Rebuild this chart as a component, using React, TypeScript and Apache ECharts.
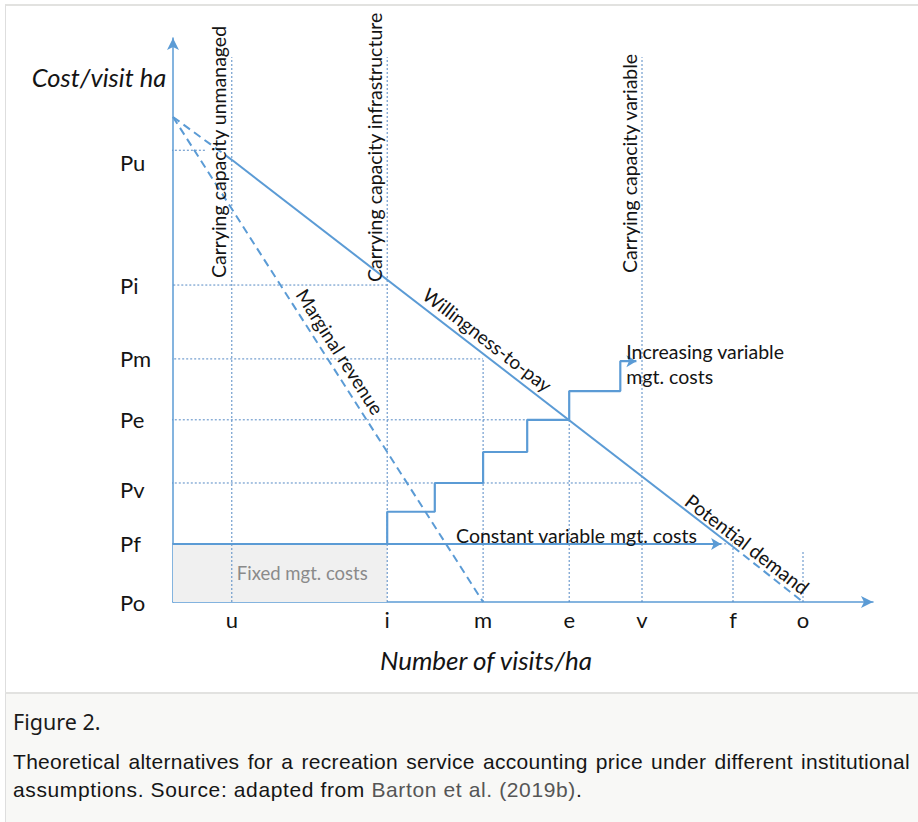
import React, { useEffect, useRef } from "react";
import * as echarts from "echarts";

// ---- data ----
const xNames = ["u", "i", "m", "e", "v", "f", "o"];
const xVals = [8.4, 30.6, 44.3, 56.6, 67.0, 80.0, 90.0];
const yNames = ["Po", "Pf", "Pv", "Pe", "Pm", "Pi", "Pu"];
const yVals = [0, 10.3, 21.1, 32.3, 43.1, 56.2, 80.1];

const [U, I, M, E, V, F, O] = xVals;
const [PO, PF, PV, PE, PM, PI, PU] = yVals;

// willingness-to-pay / potential demand line: (0,top) .. u .. f .. o
const wtpX = [0, U, F, O];
const wtpY = [86.0, 78.4, 9.8, PO];
// marginal revenue
const mrX = [0, M];
const mrY = [86.0, PO];
// increasing variable management costs (step line)
const stepX = [I, 37.4, M, 50.6, E, 63.9, 66.2];
const stepY = [PF, 16.0, PV, 26.6, PE, 37.4, 42.7];
// constant variable management costs
const constX = [0, 78.3];
const constY = [PF, PF];
// fixed management costs area
const fixedX = [0, I];
const fixedY = [PF, PF];
// horizontal dotted guides
const hGuideY = [PU, PI, PM, PE, PV, PF];
const hGuideFrom = [-4.3, -1.1, -0.4, -2.6, -2.6, -2.4];
const hGuideTo = [4.6, I, M, E, V, F];
// vertical dotted guides
const vGuideX = [U, I, M, E, V, F, O];
const vGuideTop = [96.6, 96.6, PM, PE, 96.6, 9.8, 9.2];

const BLUE = "#5b9bd5";
const GUIDE = "#5589c4";
const FONT = "Lato";
const TXT = "#141414";

export default function App() {
  const ref = useRef<HTMLDivElement>(null);

  useEffect(() => {
    if (!ref.current) return;
    const chart = echarts.init(ref.current, null, { renderer: "svg" });

    const seg = (xs: number[], ys: number[]) => xs.map((x, k) => [x, ys[k]]);

    const guideSeries: any[] = [];
    hGuideY.forEach((y, k) => {
      guideSeries.push({
        type: "line",
        data: [[hGuideFrom[k], y], [hGuideTo[k], y]],
        symbol: "none",
        clip: false,
        silent: true,
        z: 2,
        lineStyle: { color: GUIDE, width: 1, type: [2, 2] },
      });
    });
    vGuideX.forEach((x, k) => {
      guideSeries.push({
        type: "line",
        data: [[x, 0], [x, vGuideTop[k]]],
        symbol: "none",
        clip: false,
        silent: true,
        z: 2,
        lineStyle: { color: GUIDE, width: 1, type: [2, 2] },
      });
    });

    const arrowEnd = (p: number[]) => ({
      value: p,
      symbol: "arrow",
      symbolRotate: -90,
      symbolSize: [9, 10],
    });

    const stepData: any[] = seg(stepX, stepY);
    stepData[stepData.length - 1] = arrowEnd(stepData[stepData.length - 1]);
    const constData: any[] = seg(constX, constY);
    constData[constData.length - 1] = arrowEnd(constData[constData.length - 1]);

    chart.setOption({
      animation: false,
      grid: { left: 173, top: 38, right: 45, bottom: 88, containLabel: false },
      xAxis: {
        type: "value",
        min: 0,
        max: 100,
        splitLine: { show: false },
        axisTick: { show: false },
        axisLine: {
          show: true,
          symbol: ["none", "arrow"],
          symbolSize: [9, 12],
          lineStyle: { color: BLUE, width: 1.5 },
        },
        axisLabel: {
          customValues: xVals,
          formatter: (v: number) => xNames[xVals.indexOf(v)] ?? "",
          margin: 6,
          color: TXT,
          fontFamily: FONT,
          fontSize: 22,
        },
      },
      yAxis: {
        type: "value",
        min: 0,
        max: 100,
        splitLine: { show: false },
        axisTick: { show: false },
        axisLine: {
          show: true,
          symbol: ["none", "arrow"],
          symbolSize: [9, 12],
          lineStyle: { color: BLUE, width: 1.5 },
        },
        axisLabel: {
          customValues: yVals,
          formatter: (v: number) => {
            const n = yNames[yVals.indexOf(v)] ?? "";
            if (n === "Pu") return "{pu|Pu}";
            if (n === "Pv") return "{pv|Pv}";
            return n;
          },
          align: "left",
          margin: 53,
          color: TXT,
          fontFamily: FONT,
          fontSize: 22,
          rich: {
            pu: { padding: [24, 0, 0, 0], fontFamily: FONT, fontSize: 22, color: TXT },
            pv: { padding: [14, 0, 0, 0], fontFamily: FONT, fontSize: 22, color: TXT },
          },
        },
      },
      series: [
        {
          type: "line",
          data: seg(fixedX, fixedY),
          symbol: "none",
          silent: true,
          z: 1,
          lineStyle: { width: 0 },
          areaStyle: { color: "#f0f0f0", opacity: 1 },
        },
        ...guideSeries,
        {
          type: "line",
          data: seg(wtpX.slice(0, 2), wtpY.slice(0, 2)),
          symbol: "none",
          clip: false,
          z: 3,
          lineStyle: { color: BLUE, width: 2, type: [8, 5] },
        },
        {
          type: "line",
          data: seg(wtpX.slice(1, 3), wtpY.slice(1, 3)),
          symbol: "none",
          clip: false,
          z: 3,
          lineStyle: { color: BLUE, width: 2 },
        },
        {
          type: "line",
          data: seg(wtpX.slice(2, 4), wtpY.slice(2, 4)),
          symbol: "none",
          clip: false,
          z: 3,
          lineStyle: { color: BLUE, width: 2, type: [8, 5] },
        },
        {
          type: "line",
          data: seg(mrX, mrY),
          symbol: "none",
          clip: false,
          z: 3,
          lineStyle: { color: BLUE, width: 2, type: [8, 5] },
        },
        {
          type: "line",
          data: constData,
          symbol: "none",
          clip: false,
          z: 4,
          itemStyle: { color: BLUE },
          lineStyle: { color: BLUE, width: 2 },
        },
        {
          type: "line",
          data: stepData,
          step: "start",
          symbol: "none",
          clip: false,
          z: 4,
          itemStyle: { color: BLUE },
          lineStyle: { color: BLUE, width: 2.2 },
        },
      ],
    });

    // ---- annotations positioned through the chart's own scales ----
    const px = (x: number, y: number) =>
      chart.convertToPixel({ gridIndex: 0 }, [x, y]) as number[];
    const lineAngle = (xs: number[], ys: number[]) => {
      const a = px(xs[0], ys[0]);
      const b = px(xs[xs.length - 1], ys[ys.length - 1]);
      return Math.atan2(b[1] - a[1], b[0] - a[0]);
    };
    const onLine = (xs: number[], ys: number[], x: number) => {
      const x0 = xs[0], x1 = xs[xs.length - 1];
      const y0 = ys[0], y1 = ys[ys.length - 1];
      return px(x, y0 + ((y1 - y0) * (x - x0)) / (x1 - x0));
    };
    const txt = (
      text: string,
      p: number[],
      opts: { dx?: number; dy?: number; rot?: number; align?: string; va?: string; size?: number; color?: string; italic?: boolean; lh?: number; sy?: number }
    ) => ({
      type: "text",
      x: p[0] + (opts.dx ?? 0),
      y: p[1] + (opts.dy ?? 0),
      rotation: opts.rot ?? 0,
      silent: true,
      z: 10,
      style: {
        text,
        x: 0,
        y: opts.sy ?? 0,
        align: opts.align ?? "left",
        verticalAlign: opts.va ?? "middle",
        fontFamily: FONT,
        fontSize: opts.size ?? 18,
        fontStyle: opts.italic ? "italic" : "normal",
        lineHeight: opts.lh,
        fill: opts.color ?? TXT,
      },
    });

    const wtpAng = lineAngle(wtpX, wtpY);
    const mrAng = lineAngle(mrX, mrY);

    chart.setOption({
      graphic: [
        txt("Cost/visit ha", [99, 77], { align: "center", size: 25.5, italic: true }),
        txt("Number of visits/ha", [486, 660], { align: "center", size: 26, italic: true }),
        txt("Carrying capacity unmanaged", px(U, PI), { dx: -3, dy: -7, rot: Math.PI / 2, va: "bottom", size: 19.5 }),
        txt("Carrying capacity infrastructure", px(I, PI), { dx: -3, dy: -3, rot: Math.PI / 2, va: "bottom", size: 19.5 }),
        txt("Carrying capacity variable", px(V, PI), { dx: -3, dy: -12, rot: Math.PI / 2, va: "bottom", size: 19.5 }),
        txt("Marginal revenue", onLine(mrX, mrY, M / 2), { rot: -mrAng, align: "center", va: "bottom", sy: -5, size: 19 }),
        txt("Willingness-to-pay", onLine(wtpX, wtpY, M - 0.7), { rot: -wtpAng, align: "center", va: "bottom", sy: -6, size: 19 }),
        txt("Potential demand", onLine(wtpX, wtpY, F + 1), { rot: -wtpAng, align: "center", va: "bottom", sy: -2, size: 19.5 }),
        txt("Increasing variable\nmgt. costs", px(stepX[5], stepY[6]), { dx: 6, dy: 3, size: 19.5, lh: 25 }),
        txt("Constant variable mgt. costs", px(M, PF), { dx: -27, dy: -8, size: 19.5 }),
        txt("Fixed mgt. costs", px(U, PF / 2), { dx: 5, dy: 0, size: 18.5, color: "#8a8a8a" }),
      ],
    });

    return () => chart.dispose();
  }, []);

  return (
    <div
      style={{
        position: "absolute",
        left: 0,
        top: 0,
        width: 918,
        height: 822,
        background: "#ffffff",
        overflow: "hidden",
      }}
    >
      <div
        style={{
          position: "absolute",
          left: 5,
          top: 4,
          width: 913,
          height: 818,
          borderTop: "2px solid #e2e2e0",
          borderLeft: "1px solid #dedede",
          boxSizing: "border-box",
        }}
      />
      <div ref={ref} style={{ position: "absolute", left: 0, top: 0, width: 918, height: 690 }} />
      <div
        style={{
          position: "absolute",
          left: 5,
          top: 692,
          width: 913,
          height: 130,
          background: "#f8f8f6",
          borderTop: "2px solid #e2e2e0",
          borderLeft: "1px solid #dedede",
          boxSizing: "border-box",
        }}
      >
        <div
          style={{
            position: "absolute",
            left: 7,
            top: 14,
            lineHeight: "28px",
            fontFamily: '"Noto Sans"',
            fontSize: 21.5,
            color: "#1a1a1a",
            whiteSpace: "nowrap",
          }}
        >
          Figure 2.
        </div>
        <div
          style={{
            position: "absolute",
            left: 7,
            top: 54,
            width: 897,
            lineHeight: "28px",
            fontFamily: '"Liberation Sans", Arial, sans-serif',
            fontSize: 21,
            letterSpacing: 0.3,
            color: "#151515",
            textAlign: "justify",
            textAlignLast: "justify",
            whiteSpace: "nowrap",
          }}
        >
          Theoretical alternatives for a recreation service accounting price under different institutional
        </div>
        <div
          style={{
            position: "absolute",
            left: 7,
            top: 82,
            lineHeight: "28px",
            fontFamily: '"Liberation Sans", Arial, sans-serif',
            fontSize: 21,
            letterSpacing: 0.62,
            color: "#151515",
            whiteSpace: "nowrap",
          }}
        >
          assumptions. Source: adapted from <span style={{ color: "#555" }}>Barton et al. (2019b)</span>.
        </div>
      </div>
    </div>
  );
}
